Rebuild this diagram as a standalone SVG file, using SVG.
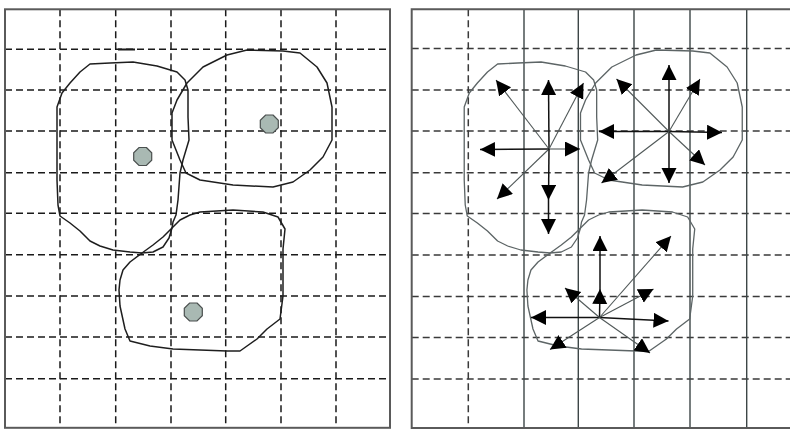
<svg xmlns="http://www.w3.org/2000/svg" xmlns:xlink="http://www.w3.org/1999/xlink" width="790" height="436" viewBox="0 0 790 436">
<style>
.bg{fill:#ffffff}
.frame{fill:none;stroke:#5a5a5a;stroke-width:2}
.dash{stroke:#1a1a1a;stroke-width:1.5;stroke-dasharray:7 4;fill:none}
.dashR{stroke:#3a3a3a;stroke-width:1.5;stroke-dasharray:7 4;fill:none}
.solid{stroke:#3d4647;stroke-width:1.4;fill:none}
.cellL{fill:none;stroke:#1e1e1e;stroke-width:1.5;stroke-linejoin:round}
.cellR{fill:none;stroke:#5d6566;stroke-width:1.3;stroke-linejoin:round}
.dot{fill:#a9b9b3;stroke:#4a4f4e;stroke-width:1.2}
.ax{stroke:#111;stroke-width:1.5;fill:none;marker-end:url(#ah)}
.dg{stroke:#505858;stroke-width:1.1;fill:none;marker-end:url(#ah)}
</style>
<defs>
<marker id="ah" markerUnits="userSpaceOnUse" markerWidth="16" markerHeight="16" refX="15" refY="7.5" orient="auto">
<path d="M0,0 L15,7.5 L0,15 Z" fill="#000"/>
</marker>
<path id="shapeA" d="M90,64 L110,63 L133,62 L157,66 L177,72 L185,80 L188,90 L188,117 L189,140 L183,160 L180,173 L178,200 L176,215 L173,222 L172,228 L169,238 L163,247 L153,252 L142,253 L130,252 L113,250 L100,246 L90,241 L80,231 L70,223 L60,216 L58,205 L57,180 L57,140 L57,107 L62,93 L70,83 L80,72 Z"/>
<path id="shapeB" d="M187,83 L203,67 L227,55 L247,50 L283,51 L300,53 L317,67 L327,83 L332,107 L332,140 L323,157 L310,170 L293,182 L273,187 L233,185 L200,180 L186,173 L180,160 L172,140 L172,113 L177,100 Z"/>
<path id="shapeC" d="M120,280 L123,270 L130,262 L142,253 L153,245 L163,237 L173,227 L180,220 L190,215 L200,212 L233,210 L263,212 L278,217 L285,229 L283,249 L283,296 L280,319 L267,329 L257,339 L240,351 L227,351 L200,350 L173,349 L150,346 L130,341 L125,329 L120,306 L119,290 Z"/>
<polygon id="oct" points="3.7,-9 9,-3.7 9,3.7 3.7,9 -3.7,9 -9,3.7 -9,-3.7 -3.7,-9"/>
</defs>
<rect class="bg" x="0" y="0" width="790" height="436"/>

<g id="left-panel">
<g id="left-grid">
<path class="dash" d="M5,49.3H390 M5,90H390 M5,131H390 M5,172.7H390 M5,213.3H390 M5,254.7H390 M5,296H390 M5,337H390 M5,378.7H390"/>
<path class="dash" d="M60,9.3V428 M115.7,9.3V428 M171,9.3V428 M225.7,9.3V428 M281,9.3V428 M336,9.3V428"/>
<rect class="frame" x="5" y="9.3" width="385" height="418.5"/>
<path d="M118,49.5H135" stroke="#1a1a1a" stroke-width="2"/>
</g>
<g id="left-cell-a"><use xlink:href="#shapeA" class="cellL"/></g>
<g id="left-cell-b"><use xlink:href="#shapeB" class="cellL"/></g>
<g id="left-cell-c"><use xlink:href="#shapeC" class="cellL"/></g>
<g id="left-dot-a"><use xlink:href="#oct" class="dot" x="142.7" y="156.5"/></g>
<g id="left-dot-b"><use xlink:href="#oct" class="dot" x="269.3" y="124"/></g>
<g id="left-dot-c"><use xlink:href="#oct" class="dot" x="193.3" y="312"/></g>
</g>

<g id="right-panel">
<g id="right-grid">
<path class="dashR" d="M411.7,48.5H790 M411.7,90H790 M411.7,131H790 M411.7,172.7H790 M411.7,213.5H790 M411.7,255H790 M411.7,296.5H790 M411.7,337.5H790 M411.7,379H790"/>
<path class="dashR" d="M468.3,9.3V428"/>
<path class="solid" d="M524,9.3V428 M578.3,9.3V428 M634,9.3V428 M690,9.3V428 M746.7,9.3V428"/>
<path class="frame" d="M790,9.3H411.7V428H790"/>
</g>
<g id="right-cell-a"><use xlink:href="#shapeA" class="cellR" transform="matrix(1.011 0 0 1 406.6 0)"/></g>
<g id="right-cell-b"><use xlink:href="#shapeB" class="cellR" transform="matrix(1.011 0 0 1 406.6 0)"/></g>
<g id="right-cell-c"><use xlink:href="#shapeC" class="cellR" transform="matrix(1.011 0 0 1 406.6 0)"/></g>
</g>

<g id="connectors">
<g id="star-a">
<path class="ax" d="M549,149 L548.5,80"/>
<path class="dg" d="M549,149 L496,80"/>
<path class="dg" d="M549,149 L583.5,83"/>
<path class="ax" d="M549,149 L480,149.5"/>
<path class="dg" d="M549,149 L580,149"/>
<path class="dg" d="M549,149 L497,199"/>
<path class="ax" d="M549,149 L548.5,200"/>
<path class="ax" d="M548.5,200 L548.5,234"/>
</g>
<g id="star-b">
<path class="ax" d="M669,131.5 L669,65"/>
<path class="dg" d="M669,131.5 L616.5,79"/>
<path class="dg" d="M669,131.5 L700,79"/>
<path class="ax" d="M669,131.5 L599,131.5"/>
<path class="ax" d="M669,131.5 L722,132.5"/>
<path class="dg" d="M669,131.5 L705,165"/>
<path class="ax" d="M669,131.5 L669,183"/>
<path class="dg" d="M669,131.5 L601.5,183"/>
</g>
<g id="star-c">
<path class="ax" d="M599.5,317.5 L600,289"/>
<path class="ax" d="M600,289 L600,236"/>
<path class="dg" d="M599.5,317.5 L565,288"/>
<path class="dg" d="M599.5,317.5 L653.5,289"/>
<path class="dg" d="M599.5,317.5 L671,236"/>
<path class="ax" d="M599.5,317.5 L531,317.5"/>
<path class="ax" d="M599.5,317.5 L668.5,321"/>
<path class="dg" d="M599.5,317.5 L550,349.5"/>
<path class="dg" d="M599.5,317.5 L650,353"/>
</g>
</g>
</svg>
